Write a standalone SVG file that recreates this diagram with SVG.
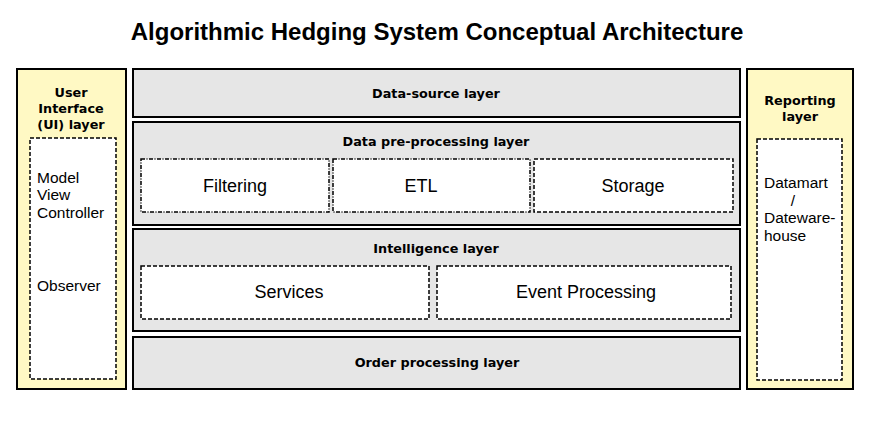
<svg xmlns="http://www.w3.org/2000/svg" width="869" height="441" viewBox="0 0 869 441">
<style>
.side{fill:#fff9c4;stroke:#000;stroke-width:2}
.layer{fill:#e6e6e6;stroke:#000;stroke-width:2}
.inner{fill:#fff;stroke:#000;stroke-width:1.5;stroke-dasharray:4 2}
.innerdd{fill:#fff;stroke:#000;stroke-width:1.5;stroke-dasharray:4 1.5 1 1.5}
.lbl{font-family:"DejaVu Sans",sans-serif;font-weight:bold;font-size:12.8px;fill:#000}
.txt{font-family:"Liberation Sans",Arial,sans-serif;font-size:15.5px;fill:#000}
.big{font-family:"Liberation Sans",Arial,sans-serif;font-size:18px;fill:#000}
.title{font-family:"Liberation Sans",Arial,sans-serif;font-weight:bold;font-size:24px;fill:#000}
</style>
<rect width="869" height="441" fill="#fff"/>
<text class="title" x="437" y="40" text-anchor="middle">Algorithmic Hedging System Conceptual Architecture</text>
<g id="ui-layer">
<rect class="side" x="17" y="69" width="109" height="320"/>
<text class="lbl" x="71" y="97" text-anchor="middle">User</text>
<text class="lbl" x="71" y="113" text-anchor="middle">Interface</text>
<text class="lbl" x="71" y="129" text-anchor="middle">(UI) layer</text>
<rect class="inner" x="30" y="138" width="86" height="241"/>
<text class="txt" x="37" y="183">Model</text>
<text class="txt" x="37" y="200">View</text>
<text class="txt" x="37" y="218">Controller</text>
<text class="txt" x="37" y="291">Observer</text>
</g>
<g id="data-source-layer">
<rect class="layer" x="133" y="69" width="607" height="48"/>
<text class="lbl" x="436" y="98" text-anchor="middle">Data-source layer</text>
</g>
<g id="data-preprocessing-layer">
<rect class="layer" x="133" y="122" width="607" height="103"/>
<text class="lbl" x="436" y="146" text-anchor="middle">Data pre-processing layer</text>
</g>
<g id="filtering">
<rect class="innerdd" x="141" y="159" width="188" height="53"/>
<text class="big" x="235" y="192" text-anchor="middle">Filtering</text>
</g>
<g id="etl">
<rect class="innerdd" x="333" y="159" width="197" height="53"/>
<text class="big" x="421" y="192" text-anchor="middle">ETL</text>
</g>
<g id="storage">
<rect class="inner" x="534" y="159" width="199" height="53"/>
<text class="big" x="633" y="192" text-anchor="middle">Storage</text>
</g>
<g id="intelligence-layer">
<rect class="layer" x="133" y="229" width="607" height="102"/>
<text class="lbl" x="436" y="253" text-anchor="middle">Intelligence layer</text>
</g>
<g id="services">
<rect class="inner" x="141" y="266" width="288" height="53"/>
<text class="big" x="289" y="298" text-anchor="middle">Services</text>
</g>
<g id="event-processing">
<rect class="inner" x="437" y="266" width="294" height="53"/>
<text class="big" x="586" y="298" text-anchor="middle">Event Processing</text>
</g>
<g id="order-processing-layer">
<rect class="layer" x="133" y="337" width="607" height="52"/>
<text class="lbl" x="437" y="367" text-anchor="middle">Order processing layer</text>
</g>
<g id="reporting-layer">
<rect class="side" x="747" y="69" width="106" height="320"/>
<text class="lbl" x="800" y="105" text-anchor="middle">Reporting</text>
<text class="lbl" x="800" y="121" text-anchor="middle">layer</text>
<rect class="inner" x="757" y="139" width="85" height="241"/>
<text class="txt" x="764" y="188">Datamart</text>
<text class="txt" x="793" y="206" text-anchor="middle">/</text>
<text class="txt" x="764" y="223">Dateware-</text>
<text class="txt" x="764" y="241">house</text>
</g>
<g id="connectors"/>
</svg>
